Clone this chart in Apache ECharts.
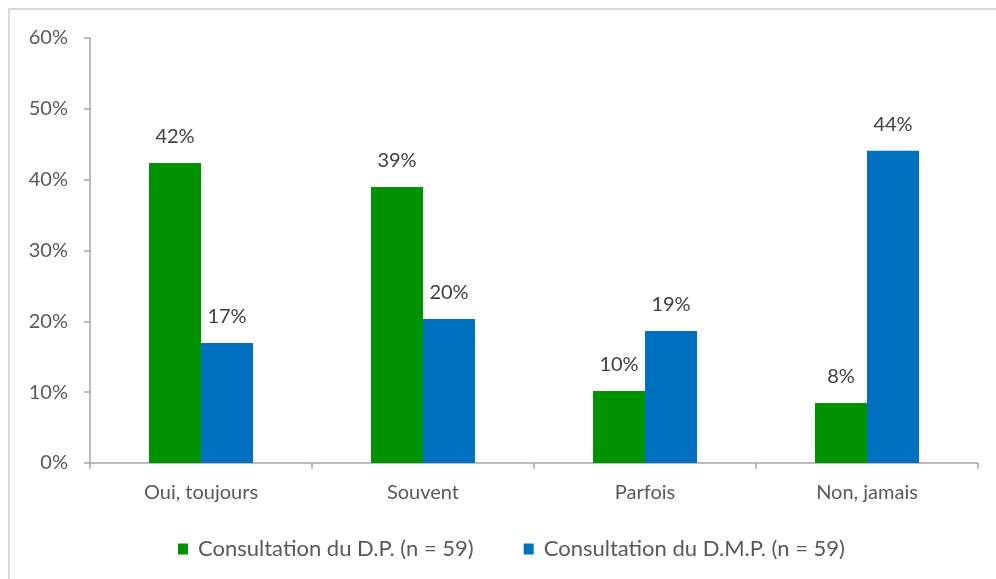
<!DOCTYPE html>
<html>
<head>
<meta charset="utf-8">
<script src="https://cdn.jsdelivr.net/npm/echarts@6/dist/echarts.min.js"></script>
<style>html,body{margin:0;padding:0;background:#fff}#c{width:996px;height:579px}</style>
</head>
<body>
<div id="c"></div>
<script>
const categories = ['Oui, toujours', 'Souvent', 'Parfois', 'Non, jamais'];
const seriesNames = ['Consultation du D.P. (n = 59)', 'Consultation du D.M.P. (n = 59)'];
const dpValues = [42.37, 38.98, 10.17, 8.47];
const dmpValues = [16.95, 20.34, 18.64, 44.07];
const yTicks = [0, 10, 20, 30, 40, 50, 60];

const FONT = 'Lato';
const FS = 20;
const chart = echarts.init(document.getElementById('c'), null, {renderer: 'canvas'});
const labelCfg = {
  show: true, position: 'top', distance: 16,
  color: '#404040', fontSize: FS, fontFamily: FONT,
  formatter: p => Math.round(p.value) + '%'
};
chart.setOption({
  animation: false,
  textStyle: {fontFamily: FONT},
  graphic: [{
    type: 'rect', silent: true,
    shape: {x: 9, y: 9, width: 1000, height: 600},
    style: {fill: 'none', stroke: '#d9d9d9', lineWidth: 2}
  }],
  grid: {left: 90, right: 18, top: 38, bottom: 116, containLabel: false},
  legend: {
    data: seriesNames, top: 533, left: 173, itemWidth: 10, itemHeight: 11,
    itemGap: 50, icon: 'rect',
    textStyle: {color: '#595959', fontSize: 22, fontFamily: FONT, padding: [0, 0, 0, 5]}
  },
  xAxis: {
    type: 'category', data: categories,
    axisLine: {lineStyle: {color: '#a6a6a6', width: 1.5}},
    axisTick: {show: true, length: 6, lineStyle: {color: '#a6a6a6', width: 1.5}},
    axisLabel: {color: '#595959', fontSize: FS, fontFamily: FONT, margin: 20}
  },
  yAxis: {
    type: 'value', min: yTicks[0], max: yTicks[yTicks.length - 1], interval: 10,
    axisLine: {show: true, lineStyle: {color: '#a6a6a6', width: 1.5}},
    axisTick: {show: true, length: 6, lineStyle: {color: '#a6a6a6', width: 1.5}},
    splitLine: {show: false},
    axisLabel: {color: '#595959', fontSize: FS, fontFamily: FONT, margin: 22, formatter: v => v + '%'}
  },
  series: [
    {name: seriesNames[0], type: 'bar', data: dpValues, barWidth: 52, barGap: '0%',
     itemStyle: {color: '#009300'}, label: labelCfg},
    {name: seriesNames[1], type: 'bar', data: dmpValues, barWidth: 52, barGap: '0%',
     itemStyle: {color: '#0070c0'}, label: labelCfg}
  ]
});
</script>
</body>
</html>
